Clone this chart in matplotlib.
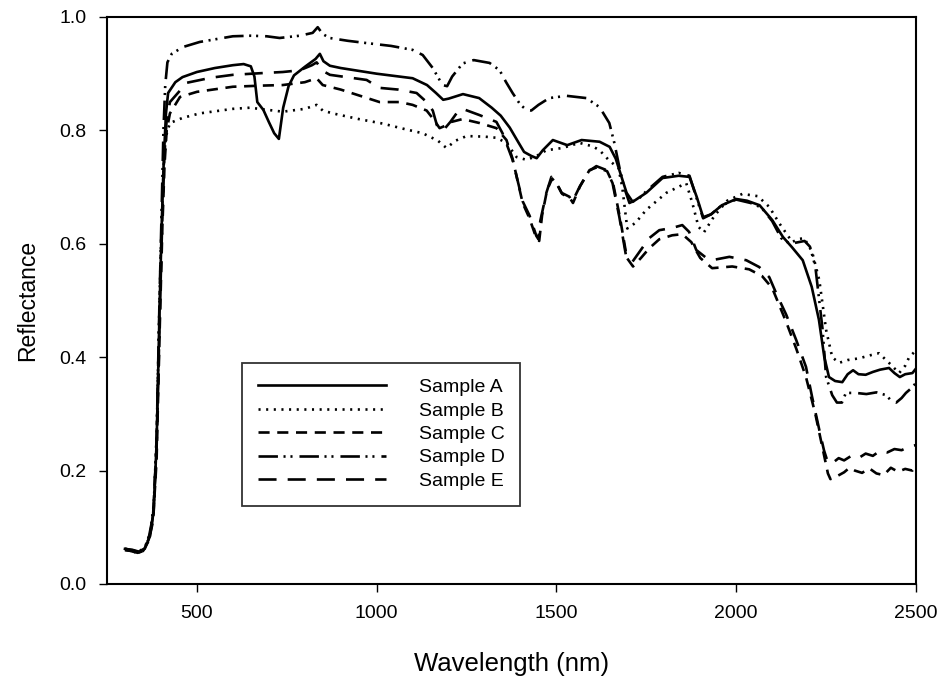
import matplotlib
matplotlib.use("Agg")
import matplotlib.pyplot as plt
import numpy as np

plt.rcParams["font.family"] = ["Liberation Sans", "DejaVu Sans"]
plt.rcParams["lines.scale_dashes"] = False

# (wavelength nm, reflectance)
sample_a = [
    (300, 0.062), (320, 0.060), (340, 0.056), (355, 0.062), (370, 0.085), (380, 0.13),
    (388, 0.25), (396, 0.48), (402, 0.63), (408, 0.75), (414, 0.83), (420, 0.866),
    (440, 0.885), (460, 0.894), (500, 0.903), (550, 0.910), (600, 0.915), (630, 0.917),
    (650, 0.913), (660, 0.895), (668, 0.850), (685, 0.836), (700, 0.815), (715, 0.795),
    (728, 0.785), (740, 0.840), (755, 0.878), (770, 0.897), (800, 0.912), (830, 0.926),
    (842, 0.935), (852, 0.922), (870, 0.914), (900, 0.910), (950, 0.905), (1000, 0.900),
    (1050, 0.896), (1100, 0.892), (1140, 0.880), (1165, 0.866), (1185, 0.854), (1200, 0.856),
    (1240, 0.864), (1285, 0.857), (1320, 0.840), (1345, 0.826), (1370, 0.805), (1395, 0.778),
    (1410, 0.762), (1430, 0.755), (1445, 0.751), (1462, 0.765), (1490, 0.783), (1530, 0.774),
    (1570, 0.783), (1620, 0.780), (1648, 0.771), (1665, 0.750), (1680, 0.720), (1695, 0.690),
    (1712, 0.674), (1750, 0.690), (1795, 0.716), (1840, 0.720), (1870, 0.718), (1890, 0.683),
    (1908, 0.647), (1930, 0.652), (1960, 0.668), (2000, 0.679), (2030, 0.676), (2065, 0.668),
    (2100, 0.642), (2130, 0.612), (2155, 0.594), (2185, 0.571), (2210, 0.524), (2230, 0.466),
    (2245, 0.400), (2258, 0.365), (2275, 0.358), (2295, 0.356), (2310, 0.370), (2325, 0.377),
    (2340, 0.370), (2360, 0.369), (2380, 0.374), (2400, 0.378), (2425, 0.381), (2440, 0.372),
    (2455, 0.365), (2470, 0.370), (2490, 0.372), (2500, 0.380),
]

sample_b = [
    (300, 0.062), (320, 0.060), (340, 0.058), (355, 0.064), (370, 0.090), (380, 0.14),
    (388, 0.26), (396, 0.50), (402, 0.64), (408, 0.74), (414, 0.79), (425, 0.813),
    (460, 0.822), (508, 0.830), (600, 0.838), (647, 0.840), (700, 0.836), (739, 0.833),
    (800, 0.838), (833, 0.845), (850, 0.835), (878, 0.830), (950, 0.820), (1017, 0.812),
    (1080, 0.802), (1128, 0.795), (1170, 0.782), (1194, 0.769), (1220, 0.782), (1250, 0.790),
    (1300, 0.789), (1333, 0.787), (1361, 0.778), (1389, 0.753), (1417, 0.748), (1445, 0.755),
    (1472, 0.765), (1517, 0.769), (1564, 0.778), (1600, 0.772), (1620, 0.765), (1645, 0.748),
    (1660, 0.740), (1672, 0.735), (1683, 0.700), (1697, 0.627), (1720, 0.637), (1750, 0.660),
    (1806, 0.690), (1861, 0.707), (1878, 0.672), (1895, 0.630), (1910, 0.620), (1940, 0.650),
    (1975, 0.676), (2017, 0.688), (2060, 0.684), (2092, 0.665), (2120, 0.636), (2156, 0.603),
    (2170, 0.608), (2189, 0.610), (2211, 0.586), (2231, 0.536), (2250, 0.448), (2267, 0.400),
    (2286, 0.390), (2310, 0.395), (2342, 0.398), (2370, 0.403), (2397, 0.407), (2425, 0.390),
    (2453, 0.372), (2470, 0.385), (2481, 0.400), (2500, 0.412),
]

sample_c = [
    (300, 0.060), (320, 0.058), (335, 0.054), (350, 0.058), (365, 0.075), (378, 0.11),
    (388, 0.22), (397, 0.46), (404, 0.63), (410, 0.74), (416, 0.80), (425, 0.830),
    (453, 0.859), (500, 0.868), (600, 0.877), (680, 0.879), (739, 0.880), (800, 0.885),
    (833, 0.892), (850, 0.880), (900, 0.872), (1008, 0.850), (1064, 0.850), (1100, 0.845),
    (1139, 0.835), (1160, 0.818), (1175, 0.804), (1190, 0.808), (1208, 0.815), (1239, 0.820),
    (1286, 0.813), (1333, 0.804), (1361, 0.783), (1378, 0.750), (1406, 0.672), (1425, 0.645),
    (1444, 0.610), (1452, 0.605), (1460, 0.650), (1474, 0.695), (1488, 0.715), (1502, 0.705),
    (1516, 0.688), (1538, 0.680), (1546, 0.672), (1566, 0.702), (1592, 0.730), (1613, 0.735),
    (1641, 0.728), (1658, 0.705), (1677, 0.645), (1696, 0.575), (1713, 0.560), (1735, 0.575),
    (1758, 0.592), (1786, 0.608), (1822, 0.615), (1850, 0.617), (1875, 0.603), (1900, 0.575),
    (1933, 0.557), (1989, 0.560), (2036, 0.555), (2072, 0.543), (2100, 0.522), (2139, 0.462),
    (2167, 0.415), (2194, 0.365), (2220, 0.300), (2240, 0.240), (2255, 0.195), (2262, 0.185),
    (2280, 0.190), (2300, 0.197), (2315, 0.205), (2330, 0.200), (2350, 0.196), (2370, 0.204),
    (2390, 0.195), (2410, 0.192), (2430, 0.205), (2450, 0.198), (2470, 0.203), (2490, 0.200),
    (2500, 0.210),
]

sample_d = [
    (300, 0.062), (320, 0.060), (340, 0.057), (355, 0.063), (370, 0.088), (380, 0.13),
    (388, 0.26), (396, 0.50), (402, 0.66), (407, 0.80), (412, 0.88), (418, 0.920),
    (430, 0.935), (461, 0.947), (508, 0.956), (600, 0.966), (650, 0.967), (694, 0.966),
    (730, 0.963), (786, 0.967), (822, 0.972), (836, 0.982), (850, 0.970), (869, 0.963),
    (920, 0.958), (972, 0.954), (1040, 0.949), (1100, 0.942), (1128, 0.933), (1156, 0.910),
    (1183, 0.880), (1196, 0.878), (1210, 0.895), (1239, 0.918), (1270, 0.924), (1314, 0.919),
    (1342, 0.906), (1360, 0.885), (1378, 0.866), (1400, 0.845), (1417, 0.836), (1430, 0.835),
    (1450, 0.845), (1480, 0.857), (1528, 0.861), (1583, 0.857), (1620, 0.841), (1647, 0.813),
    (1661, 0.778), (1675, 0.735), (1688, 0.700), (1703, 0.672), (1730, 0.680), (1750, 0.693),
    (1795, 0.718), (1840, 0.725), (1870, 0.720), (1890, 0.680), (1908, 0.645), (1930, 0.652),
    (1960, 0.668), (2000, 0.678), (2040, 0.672), (2070, 0.664), (2100, 0.640), (2125, 0.610),
    (2150, 0.600), (2190, 0.605), (2205, 0.595), (2220, 0.560), (2240, 0.450), (2250, 0.365),
    (2267, 0.333), (2280, 0.320), (2294, 0.320), (2305, 0.337), (2333, 0.337), (2362, 0.335),
    (2390, 0.338), (2417, 0.333), (2430, 0.324), (2445, 0.320), (2460, 0.328), (2472, 0.337),
    (2490, 0.347), (2500, 0.355),
]

sample_e = [
    (300, 0.060), (320, 0.058), (335, 0.055), (350, 0.058), (365, 0.078), (378, 0.12),
    (388, 0.24), (397, 0.48), (404, 0.65), (410, 0.76), (416, 0.82), (425, 0.850),
    (472, 0.884), (540, 0.893), (600, 0.898), (680, 0.901), (739, 0.903), (786, 0.906),
    (820, 0.915), (833, 0.920), (850, 0.905), (870, 0.898), (972, 0.889), (1008, 0.875),
    (1060, 0.872), (1111, 0.866), (1139, 0.850), (1156, 0.835), (1169, 0.806), (1185, 0.800),
    (1205, 0.815), (1222, 0.830), (1239, 0.838), (1286, 0.827), (1333, 0.815), (1350, 0.795),
    (1365, 0.770), (1378, 0.748), (1406, 0.675), (1425, 0.650), (1444, 0.614), (1450, 0.608),
    (1455, 0.640), (1472, 0.690), (1486, 0.718), (1500, 0.707), (1514, 0.690), (1536, 0.683),
    (1544, 0.674), (1564, 0.700), (1590, 0.728), (1611, 0.737), (1639, 0.730), (1656, 0.707),
    (1675, 0.647), (1694, 0.577), (1711, 0.568), (1730, 0.585), (1758, 0.610), (1786, 0.624),
    (1822, 0.628), (1850, 0.633), (1869, 0.621), (1889, 0.589), (1917, 0.575), (1940, 0.572),
    (1981, 0.577), (2028, 0.571), (2064, 0.559), (2092, 0.541), (2111, 0.513), (2139, 0.475),
    (2167, 0.430), (2194, 0.383), (2211, 0.330), (2231, 0.272), (2244, 0.236), (2252, 0.220),
    (2265, 0.212), (2285, 0.222), (2300, 0.218), (2320, 0.226), (2340, 0.222), (2360, 0.230),
    (2380, 0.226), (2400, 0.235), (2420, 0.232), (2440, 0.238), (2460, 0.236), (2480, 0.242),
    (2500, 0.245),
]

labels = ["Sample A", "Sample B", "Sample C", "Sample D", "Sample E"]
x_ticks = [500, 1000, 1500, 2000, 2500]
y_ticks = [0.0, 0.2, 0.4, 0.6, 0.8, 1.0]

styles = [
    "-",
    (0, (1.5, 4.0)),
    (0, (8, 5.5)),
    (0, (14, 4, 1.5, 3.5, 1.5, 5)),
    (0, (13, 8)),
]

fig = plt.figure(figsize=(9.4, 6.8), dpi=100)
ax = fig.add_axes([107 / 940, 96 / 680, 809 / 940, 567 / 680])

for data, lab, ls in zip([sample_a, sample_b, sample_c, sample_d, sample_e], labels, styles):
    arr = np.array(data)
    ax.plot(arr[:, 0], arr[:, 1], color="black", linestyle=ls, linewidth=1.9, label=lab)

ax.set_xlim(250, 2500)
ax.set_ylim(0, 1.0)
ax.set_xticks(x_ticks)
ax.set_yticks(y_ticks)
ax.set_yticklabels([f"{v:.1f}" for v in y_ticks])
ax.tick_params(direction="out", length=6, width=1, labelsize=14, pad=9)
for sp in ax.spines.values():
    sp.set_linewidth(1.5)

ax.set_xlabel("Wavelength (nm)", fontsize=18.5, labelpad=22)
ax.set_ylabel("Reflectance", fontsize=16.5, labelpad=14)

leg = ax.legend(loc="upper left", bbox_to_anchor=(242 / 940, 1 - 363 / 680),
                bbox_transform=fig.transFigure, fontsize=14, frameon=True,
                fancybox=False, handlelength=6.6, handletextpad=1.7,
                labelspacing=0.3, borderpad=0.8, borderaxespad=0)
leg.get_frame().set_edgecolor("black")
leg.get_frame().set_linewidth(1.3)

fig.savefig("out.png", dpi=100)
